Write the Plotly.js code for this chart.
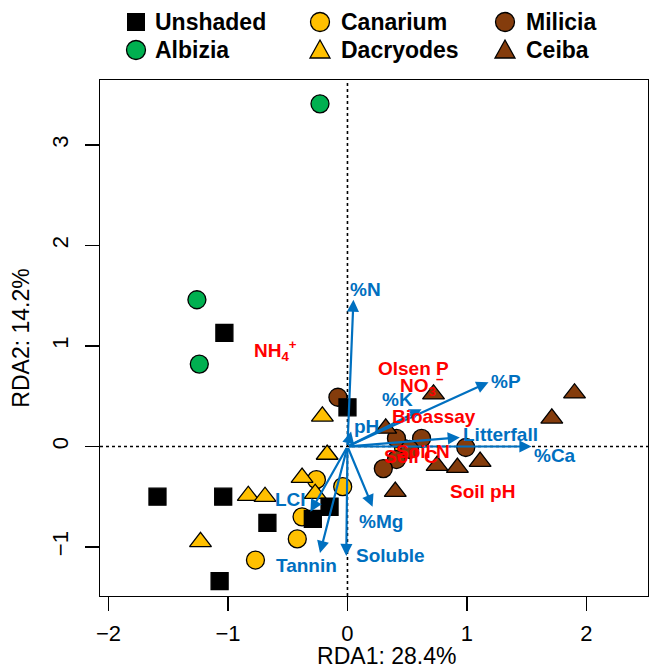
<!DOCTYPE html>
<html>
<head>
<meta charset="utf-8">
<script src="https://cdn.plot.ly/plotly-3.0.1.min.js"></script>
<style>html,body{margin:0;padding:0;background:#fff;}#chart{width:651px;height:669px;}</style>
</head>
<body>
<div id="chart"></div>
<script>
// ---- Site scores (RDA1, RDA2) ----
const unshadedX = [-1.03, 0.00, -1.59, -1.04, -0.67, -0.15, -0.29, -1.07];
const unshadedY = [1.13, 0.39, -0.50, -0.50, -0.76, -0.60, -0.72, -1.34];
const albiziaX = [-0.23, -1.26, -1.24];
const albiziaY = [3.41, 1.46, 0.82];
const canariumX = [-0.26, -0.04, -0.38, -0.42, -0.77, 0.47];
const canariumY = [-0.33, -0.40, -0.70, -0.92, -1.13, -0.02];
const dacryodesX = [-0.21, -0.17, -0.38, -0.27, -0.83, -0.69, -1.23];
const dacryodesY = [0.30, -0.08, -0.31, -0.47, -0.49, -0.50, -0.95];
const miliciaX = [-0.08, 0.41, 0.62, 0.52, 0.41, 0.30, 0.99];
const miliciaY = [0.49, 0.08, 0.08, -0.03, -0.13, -0.22, -0.01];
const ceibaX = [0.72, 1.90, 1.71, 0.32, 0.75, 0.92, 1.11, 0.40];
const ceibaY = [0.52, 0.53, 0.28, 0.18, -0.19, -0.21, -0.15, -0.45];

// ---- Biplot arrows (explanatory variables) ----
const arrowNames = ['%N', '%P', '%K', 'pH', 'Litterfall', '%Ca', 'LCI', 'Tannin', 'Soluble', '%Mg'];
const arrowX = [0.05, 1.18, 0.62, 0.03, 0.94, 1.54, -0.31, -0.23, -0.01, 0.21];
const arrowY = [1.46, 0.64, 0.37, 0.15, 0.09, 0.00, -0.65, -1.06, -1.09, -0.60];
const arrowLabelX = [0.15, 1.33, 0.42, 0.16, 1.28, 1.74, -0.48, -0.34, 0.36, 0.28];
const arrowLabelY = [1.56, 0.65, 0.47, 0.20, 0.12, -0.09, -0.53, -1.18, -1.08, -0.75];

// ---- Passive variables (red labels) ----
const passiveNames = ['NH<sub>4</sub><sup>+</sup>', 'Olsen P', 'NO<sub>3</sub><sup>\u2212</sup>', 'Bioassay', 'Soil N', 'Soil C', 'Soil pH'];
const passiveX = [-0.60, 0.55, 0.62, 0.72, 0.63, 0.53, 1.13];
const passiveY = [0.96, 0.78, 0.61, 0.30, -0.05, -0.10, -0.45];

// ---- Legend entries (row-major, 2 rows x 3 columns) ----
const legendNames = ['Unshaded', 'Canarium', 'Milicia', 'Albizia', 'Dacryodes', 'Ceiba'];

const xLabel = 'RDA1: 28.4%';
const yLabel = 'RDA2: 14.2%';

const BROWN = '#843C0C', YELLOW = '#FFC000', GREEN = '#00B050', BLUE = '#0070C0', RED = '#FF0000';
const FONT = 'Liberation Sans, Arial, sans-serif';

const styles = {
  Unshaded: {symbol: 'square', color: '#000', size: 17},
  Albizia: {symbol: 'circle', color: GREEN, size: 18},
  Canarium: {symbol: 'circle', color: YELLOW, size: 18},
  Dacryodes: {symbol: 'triangle-up', color: YELLOW, size: 19},
  Milicia: {symbol: 'circle', color: BROWN, size: 18},
  Ceiba: {symbol: 'triangle-up', color: BROWN, size: 19}
};

function pts(name, x, y) {
  const s = styles[name];
  return {
    type: 'scatter', mode: 'markers', name: name, x: x, y: y, showlegend: false,
    cliponaxis: false,
    marker: {symbol: s.symbol, color: s.color, size: s.size, line: {color: '#000', width: 1.3}},
    hoverinfo: 'skip'
  };
}

const traces = [
  pts('Canarium', canariumX, canariumY),
  pts('Dacryodes', dacryodesX, dacryodesY),
  pts('Milicia', miliciaX, miliciaY),
  pts('Ceiba', ceibaX, ceibaY),
  pts('Albizia', albiziaX, albiziaY),
  pts('Unshaded', unshadedX, unshadedY)
];

// plot area in pixels: l=100, r=648, t=80, b=596
const PL = 100, PW = 548, PB = 596, PH = 516;
const px2x = p => (p - PL) / PW;
const px2y = p => (PB - p) / PH;

const annotations = [];
arrowNames.forEach((n, i) => {
  annotations.push({
    x: arrowX[i], y: arrowY[i], ax: 0, ay: 0, xref: 'x', yref: 'y', axref: 'x', ayref: 'y',
    text: '', showarrow: true, arrowhead: 2, arrowsize: 1.1, arrowwidth: 2.2,
    arrowcolor: BLUE, standoff: 0, startstandoff: 0
  });
});
arrowNames.forEach((n, i) => {
  annotations.push({
    x: arrowLabelX[i], y: arrowLabelY[i], xref: 'x', yref: 'y', text: '<b>' + n + '</b>',
    showarrow: false, font: {family: FONT, size: 19, color: BLUE}
  });
});
passiveNames.forEach((n, i) => {
  annotations.push({
    x: passiveX[i], y: passiveY[i], xref: 'x', yref: 'y', text: '<b>' + n + '</b>',
    showarrow: false, font: {family: FONT, size: 19, color: RED}
  });
});

const shapes = [
  {type: 'line', xref: 'x', yref: 'paper', x0: 0, x1: 0, y0: 0, y1: 1, layer: 'below',
   line: {color: '#000', width: 1.6, dash: 'dot'}},
  {type: 'line', xref: 'paper', yref: 'y', x0: 0, x1: 1, y0: 0, y1: 0, layer: 'below',
   line: {color: '#000', width: 1.6, dash: 'dot'}}
];

// manual legend
const legSymX = [136, 320, 505];
const legTextX = [153, 339, 524];
const legRowY = [22, 50];
legendNames.forEach((n, i) => {
  const col = i % 3, row = Math.floor(i / 3);
  const s = styles[n];
  const xa = px2x(legSymX[col]), ya = px2y(legRowY[row]);
  const base = {xref: 'paper', yref: 'paper', xsizemode: 'pixel', ysizemode: 'pixel',
                xanchor: xa, yanchor: ya, fillcolor: s.color,
                line: {color: '#000', width: 1.3}, layer: 'above'};
  if (s.symbol === 'square') {
    shapes.push(Object.assign({type: 'rect', x0: -9, x1: 9, y0: -9, y1: 9}, base, {line: {width: 0}}));
  } else if (s.symbol === 'circle') {
    shapes.push(Object.assign({type: 'circle', x0: -9.5, x1: 9.5, y0: -9.5, y1: 9.5}, base));
  } else {
    shapes.push(Object.assign({type: 'path', path: 'M -10 -8 L 10 -8 L 0 10 Z'}, base));
  }
  annotations.push({
    xref: 'paper', yref: 'paper', x: px2x(legTextX[col]), y: ya, xanchor: 'left', yanchor: 'middle',
    text: '<b>' + n + '</b>', showarrow: false, font: {family: FONT, size: 23, color: '#000'}
  });
});

const layout = {
  width: 651, height: 669,
  margin: {l: 100, r: 3, t: 80, b: 73},
  paper_bgcolor: '#fff', plot_bgcolor: '#fff',
  font: {family: FONT, color: '#000'},
  showlegend: false,
  xaxis: {
    range: [-2.071, 2.515], showgrid: false, zeroline: false,
    showline: true, mirror: true, linecolor: '#000', linewidth: 1.3,
    ticks: 'outside', ticklen: 14, tickwidth: 1.3, tickcolor: '#000',
    tickvals: [-2, -1, 0, 1, 2], ticklabelstandoff: 3,
    tickfont: {family: FONT, size: 22, color: '#000'},
    title: {text: '&nbsp;&nbsp;&nbsp;&nbsp;' + xLabel, font: {family: FONT, size: 23, color: '#000'}, standoff: 4}
  },
  yaxis: {
    range: [-1.488, 3.647], showgrid: false, zeroline: false,
    showline: true, mirror: true, linecolor: '#000', linewidth: 1.3,
    ticks: 'outside', ticklen: 14, tickwidth: 1.3, tickcolor: '#000',
    tickvals: [-1, 0, 1, 2, 3], tickangle: -90, ticklabelstandoff: 8,
    tickfont: {family: FONT, size: 22, color: '#000'},
    title: {text: yLabel, font: {family: FONT, size: 23, color: '#000'}, standoff: 12}
  },
  shapes: shapes,
  annotations: annotations
};

Plotly.newPlot('chart', traces, layout, {displayModeBar: false, staticPlot: true});
</script>
</body>
</html>
